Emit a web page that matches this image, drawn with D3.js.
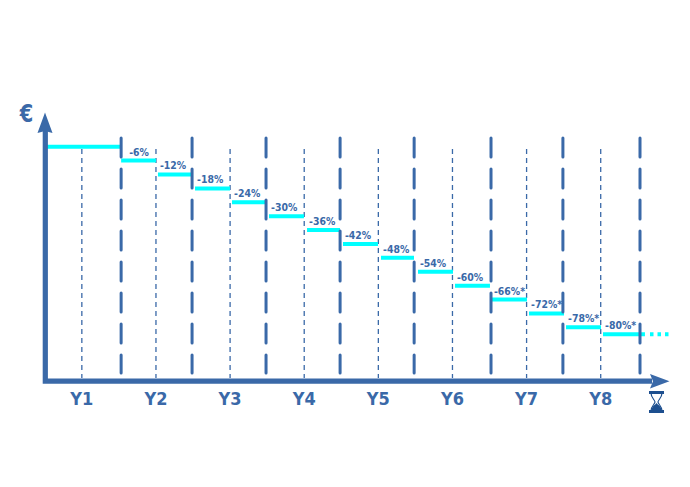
<!DOCTYPE html>
<html><head><meta charset="utf-8">
<style>html,body{margin:0;padding:0;background:#fff}svg{display:block}text{font-family:"DejaVu Sans",sans-serif;font-weight:700;fill:#3a69a8}</style>
<script src="https://cdn.jsdelivr.net/npm/d3@7"></script></head><body><svg id="c" width="690" height="487"></svg>
<script>
const yearLabels=["Y1","Y2","Y3","Y4","Y5","Y6","Y7","Y8"];
const yearEnds=[1,1.957,2.955,3.954,4.953,5.99,6.96,8];
const midYears=[0.47,1.47,2.47,3.47,4.47,5.47,6.47,7.47];
const stepStarts=[0,1,1.497,1.997,2.496,2.995,3.508,3.993,4.506,5.005,5.504,6.003,6.503,7.002,7.501];
const stepEnds=[1,1.47,1.956,2.469,2.954,3.467,3.953,4.465,4.951,5.477,5.976,6.475,6.975,7.474,8.067];
const stepValues=[0,-6,-12,-18,-24,-30,-36,-42,-48,-54,-60,-66,-72,-78,-81];
const stepLabels=["","-6%","-12%","-18%","-24%","-30%","-36%","-42%","-48%","-54%","-60%","-66%*","-72%*","-78%*","-80%*"];
const blue="#3a69a8",cyan="#00ffff",navy="#1d4f8f";
const svg=d3.select("#c");
const x=d3.scaleLinear().domain([0,8]).range([47,640]);
const y=d3.scaleLinear().domain([0,-81]).range([146.7,334.3]);
svg.append("g").selectAll("line").data(midYears).join("line").attr("x1",d=>x(d)).attr("x2",d=>x(d)).attr("y1",149).attr("y2",378)
 .attr("stroke",blue).attr("stroke-width",1.3).attr("stroke-dasharray","5 4");
svg.append("g").selectAll("line").data(stepValues).join("line")
 .attr("x1",(d,i)=>x(stepStarts[i])).attr("x2",(d,i)=>x(stepEnds[i])).attr("y1",d=>y(d)).attr("y2",d=>y(d))
 .attr("stroke",cyan).attr("stroke-width",4);
svg.append("line").attr("x1",650).attr("x2",669).attr("y1",y(-81)).attr("y2",y(-81)).attr("stroke",cyan).attr("stroke-width",4).attr("stroke-dasharray","3.5 4");
svg.append("g").selectAll("line").data(yearEnds).join("line").attr("x1",d=>x(d)).attr("x2",d=>x(d)).attr("y1",138).attr("y2",373)
 .attr("stroke",blue).attr("stroke-width",3).attr("stroke-linecap","round").attr("stroke-dasharray","19 12");
svg.append("path").attr("d","M45.3 131V381.2H652").attr("fill","none").attr("stroke",blue).attr("stroke-width",5.2);
svg.append("path").attr("d","M45 112.5L52.5 133L45 131L37.5 133Z").attr("fill",blue);
svg.append("path").attr("d","M650 374L669.5 381.2L650 388.5L653 381.2Z").attr("fill",blue);
svg.append("g").selectAll("text").data(stepLabels).join("text")
 .attr("transform",(d,i)=>`translate(${x(stepStarts[i])+(i===1?8:2)},${y(stepValues[i])-5}) scale(0.9,1)`)
 .attr("font-size",10.4).text(d=>d);
svg.append("g").selectAll("text").data(yearLabels).join("text")
 .attr("x",(d,i)=>x(midYears[i])).attr("y",405).attr("text-anchor","middle").attr("font-size",18).attr("textLength",23).attr("lengthAdjust","spacingAndGlyphs").text(d=>d);
svg.append("text").attr("x",26.5).attr("y",122).attr("text-anchor","middle").attr("font-size",24).attr("textLength",13.5).attr("lengthAdjust","spacingAndGlyphs").text("€");
svg.append("path").attr("fill","#fff").attr("stroke",navy).attr("stroke-width",1.2).attr("d","M651 393C651 398 655 400 655 402C655 404 651 406 651 411H662C662 406 658 404 658 402C658 400 662 398 662 393Z");
svg.append("path").attr("fill",navy).attr("d","M649 391H664V394H649ZM649 410H664V413H649ZM651.5 410C652 406 655 405 656.5 403C658 405 661 406 661.5 410Z");
</script></body></html>
